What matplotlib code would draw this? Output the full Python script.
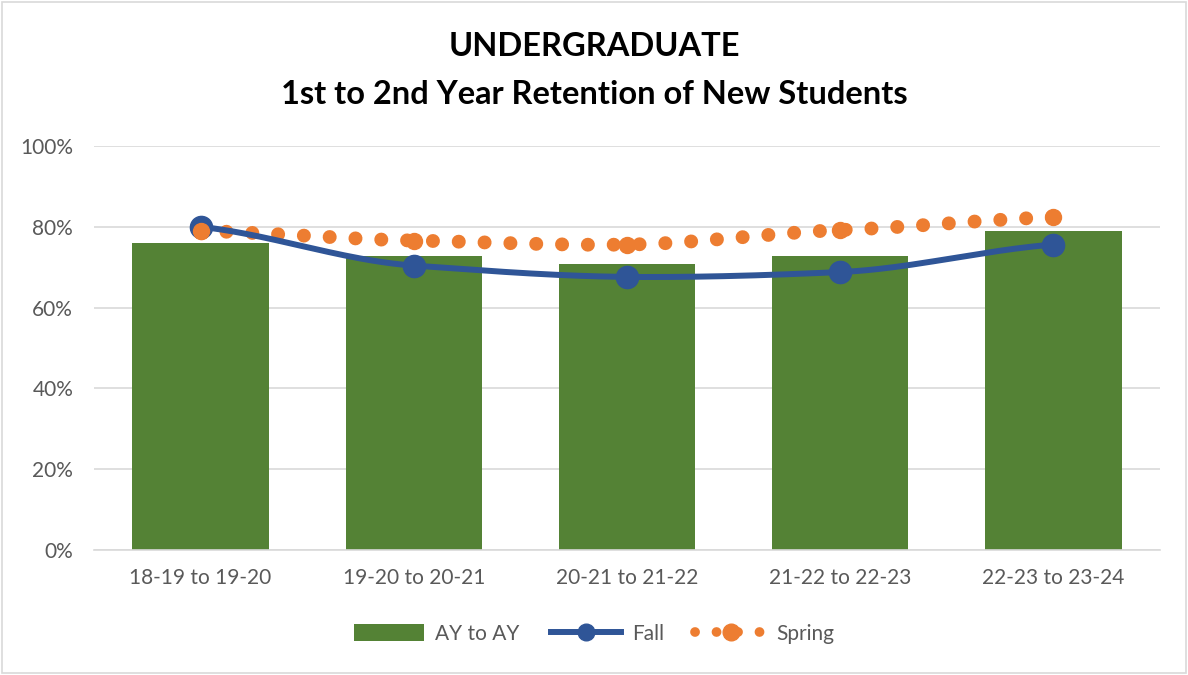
import numpy as np
import matplotlib
matplotlib.use('Agg')
import matplotlib.pyplot as plt
from matplotlib.patches import Rectangle, Patch
from matplotlib.lines import Line2D

# data
categories = ['18-19 to 19-20', '19-20 to 20-21', '20-21 to 21-22',
              '21-22 to 22-23', '22-23 to 23-24']
ay_to_ay = [76.0, 72.8, 70.8, 72.8, 79.0]
fall = [80.0, 70.4, 67.6, 68.8, 75.6]
spring = [79.0, 76.6, 75.6, 79.2, 82.4]

GREEN = '#548235'
BLUE = '#2F5597'
ORANGE = '#ED7D31'
GRAY = '#595959'

plt.rcParams['font.family'] = ['Lato', 'DejaVu Sans']


def smooth(y, n=40, tension=0.6):
    # Hermite smoothing, roughly like Excel's smoothed line
    y = np.asarray(y, dtype=float)
    p = np.concatenate([[2 * y[0] - y[1]], y, [2 * y[-1] - y[-2]]])
    m = tension * (p[2:] - p[:-2]) / 2
    xs, ys = [], []
    for i in range(len(y) - 1):
        t = np.linspace(0, 1, n, endpoint=(i == len(y) - 2))
        h00 = 2 * t ** 3 - 3 * t ** 2 + 1
        h10 = t ** 3 - 2 * t ** 2 + t
        h01 = -2 * t ** 3 + 3 * t ** 2
        h11 = t ** 3 - t ** 2
        ys.append(h00 * y[i] + h10 * m[i] + h01 * y[i + 1] + h11 * m[i + 1])
        xs.append(i + t)
    return np.concatenate(xs), np.concatenate(ys)


fig = plt.figure(figsize=(11.88, 6.75), dpi=100)
ax = fig.add_axes([94 / 1188, 1 - 550 / 675, (1160 - 94) / 1188, (550 - 146) / 675])

x = np.arange(len(categories))
ax.bar(x, ay_to_ay, width=0.64, color=GREEN, zorder=2, label='AY to AY')

sx, sy = smooth(spring)
ax.plot(sx, sy, color=ORANGE, lw=10, linestyle=(0, (0.01, 1.85)),
        dash_capstyle='round', zorder=3)
ax.plot(x, spring, 'o', color=ORANGE, ms=11.5, zorder=4)

fx, fy = smooth(fall)
ax.plot(fx, fy, color=BLUE, lw=4.3, solid_capstyle='round', zorder=5)
ax.plot(x, fall, 'o', color=BLUE, ms=16, zorder=5)
# first spring marker sits above the fall marker
ax.plot(x[:1], spring[:1], 'o', color=ORANGE, ms=11.5, zorder=6)

ax.set_xlim(-0.5, 4.5)
ax.set_ylim(0, 100)
ax.set_yticks(np.arange(0, 101, 20))
ax.set_yticklabels([f'{v}%' for v in range(0, 101, 20)])
ax.set_xticks(x)
ax.set_xticklabels(categories)
ax.grid(axis='y', color='#D9D9D9', lw=1.2, zorder=0)
ax.tick_params(length=0, colors=GRAY, labelsize=15)
ax.tick_params(axis='y', pad=15)
ax.tick_params(axis='x', pad=13)
for s in ['top', 'right', 'left']:
    ax.spines[s].set_visible(False)
ax.spines['bottom'].set_color('#D9D9D9')
ax.spines['bottom'].set_linewidth(1.2)

fig.text(0.5, 1 - 46 / 675, 'UNDERGRADUATE', ha='center', va='center',
         fontsize=23.5, fontweight='bold', color='black')
fig.text(0.5, 1 - 94 / 675, '1st to 2nd Year Retention of New Students', ha='center',
         va='center', fontsize=23.5, fontweight='bold', color='black')

# legend
handles = [
    Patch(facecolor=GREEN, label='AY to AY'),
    Line2D([0], [0], color=BLUE, lw=4.3, marker='o', ms=12, label='Fall'),
    Line2D([0], [0], color=ORANGE, lw=7, linestyle=(0, (0.01, 2.2)),
           dash_capstyle='round', marker='o', ms=12, label='Spring'),
]
fig.legend(handles=handles, loc='center', bbox_to_anchor=(0.5, 1 - 634 / 675),
           ncol=3, frameon=False, fontsize=15, handlelength=3.4, handleheight=0.9,
           columnspacing=1.5, handletextpad=0.5, labelcolor=GRAY)

fig.patches.append(Rectangle((2 / 1188, 2 / 675), 1 - 4 / 1188, 1 - 4 / 675,
                             transform=fig.transFigure, fill=False,
                             edgecolor='#D9D9D9', lw=1.2))

fig.savefig('out.png', dpi=100)
